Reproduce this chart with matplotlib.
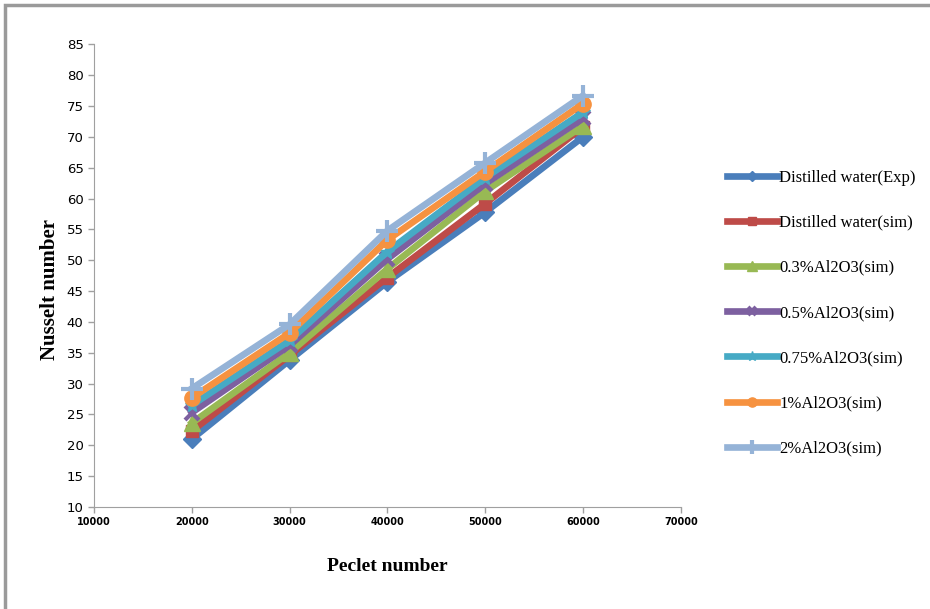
import matplotlib
matplotlib.use("Agg")
import matplotlib.pyplot as plt
from matplotlib.patches import Rectangle

peclet = [20000, 30000, 40000, 50000, 60000]

dw_exp = [21.0, 33.8, 46.5, 57.8, 70.0]
dw_sim = [22.3, 34.6, 47.2, 59.2, 71.6]
al_03 = [23.6, 35.0, 48.6, 61.2, 71.8]
al_05 = [25.3, 36.2, 50.2, 62.4, 73.0]
al_075 = [26.5, 37.0, 51.4, 63.4, 74.0]
al_1 = [27.7, 38.2, 53.3, 64.4, 75.4]
al_2 = [29.2, 39.6, 54.8, 65.8, 76.7]

labels = ["Distilled water(Exp)", "Distilled water(sim)", "0.3%Al2O3(sim)",
          "0.5%Al2O3(sim)", "0.75%Al2O3(sim)", "1%Al2O3(sim)", "2%Al2O3(sim)"]
series = [dw_exp, dw_sim, al_03, al_05, al_075, al_1, al_2]
colors = ["#4A7EBB", "#BE4B48", "#98B954", "#7D60A0", "#46AAC5", "#F69240", "#95B3D7"]
markers = ["D", "s", "^", "x", "*", "o", "+"]
msizes = [9, 9, 11, 10, 11, 11, 16]

fig = plt.figure(figsize=(9.3, 6.09), dpi=100)
ax = fig.add_axes([0.101, 0.1675, 0.631, 0.7595])

for ys, lab, c, m, ms in zip(series, labels, colors, markers, msizes):
    ax.plot(peclet, ys, color=c, lw=4.8, marker=m, ms=ms, mew=3 if m in "x+" else 1,
            mec=c, mfc=c, label=lab)

ax.set_xlim(10000, 70000)
ax.set_ylim(10, 85)
ax.set_xticks(range(10000, 70001, 10000))
ax.set_yticks(range(10, 86, 5))

for s in ["top", "right"]:
    ax.spines[s].set_visible(False)
for s in ["left", "bottom"]:
    ax.spines[s].set_color("#A0A0A0")
ax.tick_params(colors="#A0A0A0", length=4, width=1)
narrow = ["Liberation Sans Narrow", "DejaVu Sans"]
for t in ax.get_xticklabels():
    t.set_family(narrow)
    t.set_fontsize(7)
    t.set_fontweight("bold")
    t.set_color("black")
for t in ax.get_yticklabels():
    t.set_family(narrow)
    t.set_fontsize(9.5)
    t.set_color("black")

ax.set_xlabel("Peclet number", family="Liberation Serif", fontweight="bold",
              fontsize=14, labelpad=22)
ax.set_ylabel("Nusselt number", family="Liberation Serif", fontweight="bold",
              fontsize=15)
ax.yaxis.set_label_coords(-0.058, 0.47)

leg = fig.legend(loc="center left", bbox_to_anchor=(0.775, 0.486), frameon=False,
                 prop={"family": "Liberation Serif", "size": 12},
                 handlelength=3.0, handletextpad=0.1, labelspacing=1.75,
                 borderaxespad=0, markerscale=0.6)

# outer frame of the picture
fig.patches.append(Rectangle((5 / 930, -0.1), 1.2, 1.1 - 5 / 609,
                             transform=fig.transFigure, fill=False,
                             edgecolor="#9A9A9A", lw=2.5))

fig.savefig("out.png", dpi=100)
